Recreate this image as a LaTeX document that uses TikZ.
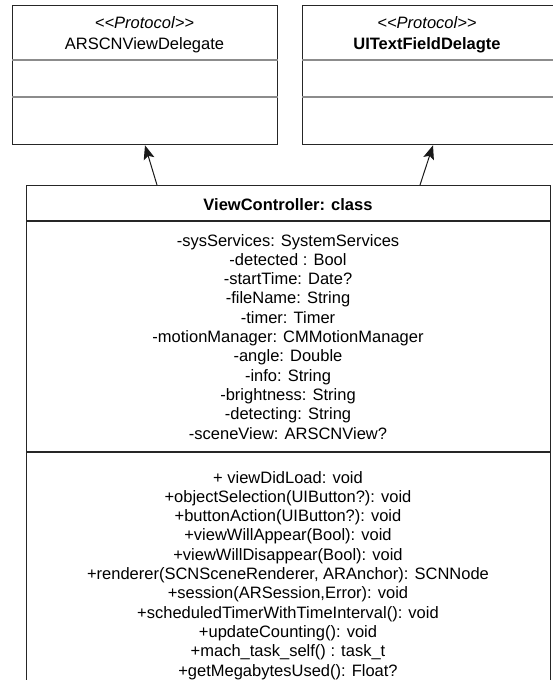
\documentclass[tikz,border=0pt]{standalone}
\usepackage{fontspec}
\setmainfont{Liberation Sans}
\usetikzlibrary{arrows.meta,calc}
\begin{document}
\begin{tikzpicture}[x=1pt,y=-1pt,
  frame/.style={draw=black!85, line width=1.3pt, rectangle, inner sep=0pt, anchor=north west},
  divider/.style={draw=black!45, line width=1.2pt},
  rule/.style={draw=black!85, line width=1.3pt},
  lbl/.style={font=\fontsize{16.5}{19.3}\selectfont, inner sep=0pt, anchor=base},
  realize/.style={-{Stealth[length=14pt,width=11pt,inset=3pt]}, line width=1pt, draw=black!90}]
\useasboundingbox (0,0) rectangle (552,680);

% protocol boxes
\node[frame, minimum width=265pt, minimum height=139pt] (p1) at (12,5) {};
\node[frame, minimum width=251pt, minimum height=139pt] (p2) at (302,5) {};
\foreach \b in {p1,p2}{
  \draw[divider] ($(\b.north west)+(0,55)$) -- ($(\b.north east)+(0,55)$);
  \draw[divider] ($(\b.north west)+(0,92)$) -- ($(\b.north east)+(0,92)$);
}
\node[lbl] (st1) at (144.5,28) {\itshape <{}<Protocol>{}>};
\node[lbl] (n1) at (144.5,49) {ARSCNViewDelegate};
\node[lbl] (st2) at (427,28) {\itshape <{}<Protocol>{}>};
\node[lbl] (n2) at (427,49) {\bfseries UITextFieldDelagte};

% class box
\node[frame, minimum width=524pt, minimum height=520pt] (vc) at (26,185) {};
\draw[rule] ($(vc.north west)+(0,36)$) -- ($(vc.north east)+(0,36)$);
\draw[rule] ($(vc.north west)+(0,267)$) -- ($(vc.north east)+(0,267)$);
\node[lbl] (title) at (288,210) {\bfseries ViewController: class};

\foreach [count=\i from 0] \t in {
  -sysServices: SystemServices,
  -detected : Bool,
  -startTime: Date?,
  -fileName: String,
  -timer: Timer,
  -motionManager: CMMotionManager,
  -angle: Double,
  -info: String,
  -brightness: String,
  -detecting: String,
  -sceneView: ARSCNView?}
  \node[lbl] (attr\i) at (288,246+19.3*\i) {\t};

\foreach [count=\i from 0] \t in {
  + viewDidLoad: void,
  +objectSelection(UIButton?): void,
  +buttonAction(UIButton?): void,
  +viewWillAppear(Bool): void,
  +viewWillDisappear(Bool): void,
  {+renderer(SCNSceneRenderer, ARAnchor): SCNNode},
  {+session(ARSession,Error): void},
  +scheduledTimerWithTimeInterval(): void,
  +updateCounting(): void,
  +mach\_task\_self() : task\_t,
  +getMegabytesUsed(): Float?}
  \node[lbl] (op\i) at (288,483+19.3*\i) {\t};

% realization arrows
\coordinate (xa) at (157,0);
\coordinate (xb) at (145,0);
\coordinate (xc) at (420,0);
\coordinate (xd) at (433,0);
\draw[realize] (vc.north -| xa) -- (p1.south -| xb);
\draw[realize] (vc.north -| xc) -- (p2.south -| xd);
\end{tikzpicture}
\end{document}
